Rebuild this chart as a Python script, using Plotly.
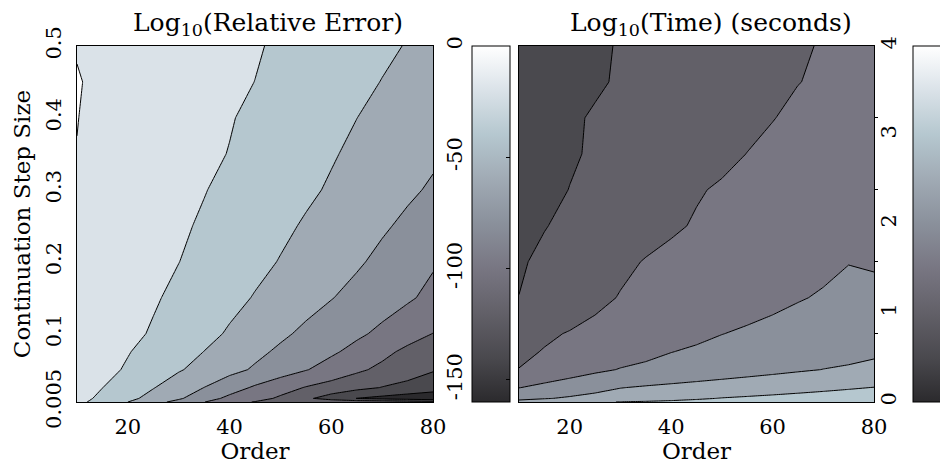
import plotly.graph_objects as go

# Grid: polynomial order (columns) x continuation step size (rows)
orders = [10, 15, 20, 25, 30, 35, 40, 45, 50, 55, 60, 65, 70, 75, 80]
step_sizes = [0.005, 0.01, 0.025, 0.05, 0.075, 0.1, 0.15, 0.2, 0.25, 0.3,
              0.35, 0.4, 0.45, 0.5]

# log10 of the relative error, one row per step size
log_rel_error = [
    [-15.0, -27.5, -40.0, -53.0, -66.1, -79.5, -94.1, -100.9, -102.5, -104.1, -105.7, -107.3, -108.8, -110.4, -112.0],
    [-13.2, -24.2, -35.2, -46.2, -57.3, -72.1, -84.4, -93.2, -102.9, -116.3, -128.7, -140.3, -145.2, -150.1, -155.0],
    [-10.0, -19.8, -29.5, -39.2, -49.6, -60.2, -71.6, -82.6, -92.1, -101.1, -107.7, -114.4, -120.7, -125.4, -130.0],
    [-8.0, -14.8, -22.0, -30.2, -38.4, -46.3, -54.3, -62.3, -70.7, -79.0, -87.7, -96.5, -104.3, -111.4, -118.6],
    [-7.0, -13.1, -19.1, -26.0, -33.0, -40.2, -47.8, -55.6, -63.1, -70.1, -77.1, -85.5, -94.9, -104.3, -113.8],
    [-6.0, -11.1, -16.1, -21.6, -28.2, -35.0, -41.9, -49.3, -56.7, -63.7, -70.1, -76.7, -84.0, -92.0, -100.3],
    [-5.0, -9.4, -13.9, -18.3, -23.6, -29.4, -35.1, -41.0, -47.1, -53.2, -59.3, -65.4, -71.5, -77.6, -84.6],
    [-4.0, -8.0, -11.9, -15.9, -19.8, -25.0, -30.3, -35.5, -40.8, -46.4, -52.1, -57.7, -64.2, -71.1, -78.1],
    [-3.0, -6.7, -10.4, -14.0, -17.7, -21.9, -26.8, -31.7, -36.6, -41.7, -47.0, -52.3, -57.7, -63.5, -69.9],
    [-2.0, -5.5, -9.0, -12.5, -16.0, -19.4, -23.75, -28.2, -32.7, -37.1, -41.8, -46.9, -52.0, -57.1, -62.2],
    [-0.3, -4.2, -7.4, -10.7, -13.9, -17.1, -20.45, -25.0, -29.5, -34.0, -38.6, -43.2, -47.9, -52.5, -57.2],
    [0.3, -4.0, -7.0, -10.0, -13.1, -16.1, -19.1, -23.0, -27.2, -31.4, -35.7, -39.9, -44.2, -48.4, -52.6],
    [1.0, -3.5, -6.25, -9.0, -11.75, -14.5, -17.25, -20.1, -24.1, -28.2, -32.2, -36.3, -40.4, -44.5, -48.6],
    [-1.0, -3.5, -6.1, -8.6, -11.2, -13.7, -16.3, -18.8, -22.0, -25.8, -29.5, -33.3, -37.1, -40.8, -44.6],
]

# log10 of the run time in seconds, one row per step size
log_time = [
    [2.634, 2.736, 2.837, 2.939, 3.013, 3.047, 3.081, 3.114, 3.148, 3.182, 3.215, 3.249, 3.283, 3.316, 3.35],
    [2.393, 2.473, 2.553, 2.633, 2.712, 2.792, 2.872, 2.952, 3.016, 3.055, 3.094, 3.133, 3.172, 3.211, 3.25],
    [1.99, 2.122, 2.244, 2.366, 2.488, 2.546, 2.598, 2.649, 2.701, 2.753, 2.804, 2.856, 2.907, 2.959, 3.01],
    [1.508, 1.642, 1.777, 1.911, 2.021, 2.082, 2.143, 2.205, 2.266, 2.327, 2.388, 2.45, 2.506, 2.54, 2.573],
    [1.424, 1.519, 1.614, 1.708, 1.803, 1.898, 1.992, 2.052, 2.109, 2.166, 2.223, 2.279, 2.336, 2.393, 2.45],
    [1.365, 1.443, 1.522, 1.601, 1.679, 1.758, 1.836, 1.915, 1.994, 2.047, 2.097, 2.148, 2.199, 2.249, 2.3],
    [1.004, 1.138, 1.272, 1.406, 1.52, 1.585, 1.65, 1.715, 1.781, 1.846, 1.911, 1.977, 2.032, 2.2, 2.2],
    [0.958, 1.074, 1.191, 1.307, 1.423, 1.52, 1.577, 1.635, 1.692, 1.75, 1.807, 1.865, 1.922, 1.98, 1.92],
    [0.891, 0.985, 1.079, 1.174, 1.268, 1.362, 1.457, 1.526, 1.574, 1.621, 1.669, 1.717, 1.765, 1.812, 1.86],
    [0.818, 0.912, 1.006, 1.1, 1.194, 1.288, 1.382, 1.476, 1.533, 1.578, 1.622, 1.667, 1.711, 1.756, 1.8],
    [0.807, 0.885, 0.963, 1.04, 1.118, 1.196, 1.273, 1.351, 1.429, 1.504, 1.553, 1.602, 1.652, 1.701, 1.75],
    [0.827, 0.893, 0.96, 1.027, 1.093, 1.16, 1.227, 1.293, 1.36, 1.427, 1.493, 1.546, 1.597, 1.649, 1.7],
    [0.765, 0.832, 0.898, 0.964, 1.03, 1.097, 1.163, 1.229, 1.296, 1.362, 1.428, 1.495, 1.53, 1.57, 1.62],
    [0.765, 0.83, 0.89, 0.955, 1.019, 1.083, 1.146, 1.21, 1.274, 1.338, 1.401, 1.465, 1.52, 1.56, 1.6],
]

# Tick labels
order_ticks = [20, 40, 60, 80]
step_ticks = [0.005, 0.1, 0.2, 0.3, 0.4, 0.5]
step_ticktext = ["0.005", "0.1", "0.2", "0.3", "0.4", "0.5"]
error_cbar_ticks = [0, -50, -100, -150]
error_cbar_text = ["0", "-50", "-100", "-150"]
time_cbar_ticks = [0, 1, 2, 3, 4]
time_cbar_text = ["0", "1", "2", "3", "4"]

# Colour limits and contour levels
error_limits = [-160, 0]
time_limits = [0, 4]
error_levels = dict(start=-140, end=0, size=20)
time_levels = dict(start=0.5, end=4.0, size=0.5)

# Muted bone-style map shared by both panels (sampled at the 8 band edges)
bone_colors = ["#2b2a2d", "#4a494e", "#626068", "#787682", "#8a909b",
               "#a0aab4", "#b5c7cf", "#dae2e8", "#ffffff"]
n_bands = len(bone_colors) - 1

# smooth version for the colour bars
bone_map = [[k / n_bands, c] for k, c in enumerate(bone_colors)]

# flat version for the filled bands: band k keeps colour k across its whole slot
band_map = []
for k, c in enumerate(bone_colors):
    lo = max(0.0, (k - 0.4) / n_bands)
    hi = min(1.0, (k + 0.6) / n_bands)
    band_map.append([lo, c])
    band_map.append([hi, c])

W, H = 940, 464
FONT = "DejaVu Serif"


def fx(px):
    return px / W


def fy(px):
    return 1 - px / H


plot_top, plot_bottom = 46, 402
left_x0, left_x1 = 77, 433
right_x0, right_x1 = 519, 874
ydom = [fy(plot_bottom), fy(plot_top)]
bar_len = (plot_bottom - plot_top) / H
bar_mid = (ydom[0] + ydom[1]) / 2

fig = go.Figure()

# filled contours; band colours follow the level list (lowest band -> first colour)
fig.add_trace(go.Contour(
    x=orders, y=step_sizes, z=log_rel_error, xaxis="x", yaxis="y",
    autocontour=False, contours=dict(coloring="fill", showlines=True, **error_levels),
    colorscale=band_map,
    line=dict(color="black", width=1, smoothing=0),
    showscale=False, hoverinfo="skip",
))
fig.add_trace(go.Contour(
    x=orders, y=step_sizes, z=log_time, xaxis="x2", yaxis="y2",
    autocontour=False, contours=dict(coloring="fill", showlines=True, **time_levels),
    colorscale=band_map,
    line=dict(color="black", width=1, smoothing=0),
    showscale=False, hoverinfo="skip",
))


def colorbar_trace(xa, ya, limits, tickvals, bar_x):
    # invisible marker that carries a continuous colour bar
    return go.Scatter(
        x=[orders[0]], y=[(limits[0] + limits[1]) / 2], xaxis=xa, yaxis=ya,
        mode="markers", hoverinfo="skip", showlegend=False,
        marker=dict(
            size=1, opacity=0, color=[limits[0]], colorscale=bone_map,
            cmin=limits[0], cmax=limits[1], showscale=True,
            colorbar=dict(
                x=fx(bar_x), xanchor="left", y=bar_mid, yanchor="middle",
                len=bar_len, lenmode="fraction", thickness=38, thicknessmode="pixels",
                xpad=0, ypad=0, outlinewidth=1, outlinecolor="black",
                ticks="inside", ticklen=4, tickcolor="black", tickwidth=1,
                tickvals=tickvals, showticklabels=False,
            ),
        ),
    )


fig.add_trace(colorbar_trace("x", "y3", error_limits, error_cbar_ticks[1:], 472))
fig.add_trace(colorbar_trace("x2", "y4", time_limits, time_cbar_ticks[1:-1], 913))

axis_common = dict(showgrid=False, zeroline=False, showline=True, mirror=True,
                   linecolor="black", linewidth=1)
tick_font = dict(family=FONT, size=21, color="black")
title_font = dict(family=FONT, size=23, color="black")
head_font = dict(family=FONT, size=25, color="black")

fig.update_layout(
    width=W, height=H,
    margin=dict(l=0, r=0, t=0, b=0, autoexpand=False),
    paper_bgcolor="white", plot_bgcolor="white",
    font=dict(family=FONT, color="black"),
    showlegend=False,
    xaxis=dict(domain=[fx(left_x0), fx(left_x1)], range=[10, 80], anchor="y",
               tickvals=order_ticks, ticks="", tickfont=tick_font, ticklabelstandoff=6,
               title=dict(text="Order", font=title_font, standoff=11), **axis_common),
    yaxis=dict(domain=ydom, range=[0.005, 0.5], anchor="x",
               tickvals=step_ticks, ticktext=step_ticktext, tickangle=-90,
               ticks="", tickfont=tick_font, ticklabelstandoff=7,
               title=dict(text="Continuation Step Size", font=title_font, standoff=4),
               **axis_common),
    xaxis2=dict(domain=[fx(right_x0), fx(right_x1)], range=[10, 80], anchor="y2",
                tickvals=order_ticks, ticks="", tickfont=tick_font, ticklabelstandoff=6,
                title=dict(text="Order", font=title_font, standoff=11), **axis_common),
    yaxis2=dict(domain=ydom, range=[0.005, 0.5], anchor="x2", side="right",
                tickvals=step_ticks[1:-1], ticks="outside", ticklen=3, tickcolor="black",
                showticklabels=False, **axis_common),
    yaxis3=dict(overlaying="y", anchor="free", position=fx(left_x1), side="right",
                range=error_limits, tickvals=error_cbar_ticks, ticktext=error_cbar_text,
                tickangle=-90, ticks="", tickfont=tick_font, ticklabelstandoff=7,
                showgrid=False, zeroline=False, showline=False),
    yaxis4=dict(overlaying="y2", anchor="free", position=fx(right_x1), side="right",
                range=time_limits, tickvals=time_cbar_ticks, ticktext=time_cbar_text,
                tickangle=-90, ticks="", tickfont=tick_font, ticklabelstandoff=0,
                showgrid=False, zeroline=False, showline=False),
    annotations=[
        dict(text="Log<sub>10</sub>(Relative Error)", x=fx(268), y=fy(24),
             xref="paper", yref="paper", xanchor="center", yanchor="middle",
             showarrow=False, font=head_font),
        dict(text="Log<sub>10</sub>(Time) (seconds)", x=fx(711), y=fy(24),
             xref="paper", yref="paper", xanchor="center", yanchor="middle",
             showarrow=False, font=head_font),
    ],
)

fig.write_html("out.html")
